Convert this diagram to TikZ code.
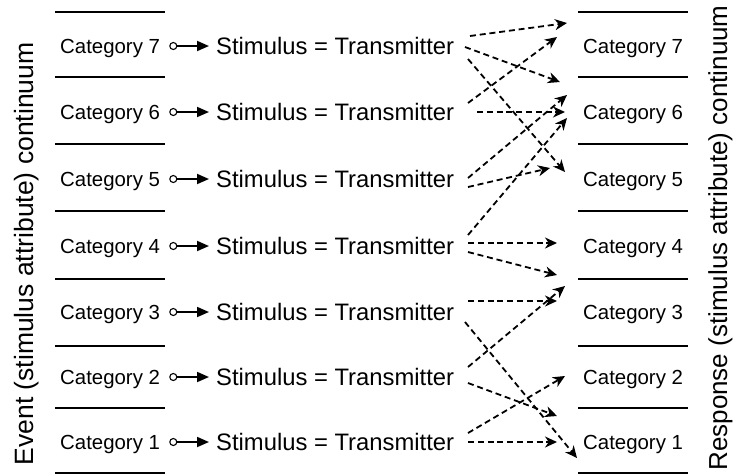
\documentclass[tikz,border=0pt]{standalone}
\usepackage{fontspec}
\setmainfont{Liberation Sans}
\usetikzlibrary{arrows.meta}
\begin{document}
\begin{tikzpicture}[x=1pt,y=-1pt,
  rule/.style={line width=1.3pt},
  cat/.style={font=\fontsize{20.4}{24}\selectfont, inner sep=0pt, anchor=base west},
  stim/.style={font=\fontsize{23.8}{28}\selectfont, inner ysep=0pt, inner xsep=7pt, anchor=base west},
  dot/.style={circle, draw, line width=1.1pt, inner sep=0pt, minimum size=7pt},
  feed/.style={line width=1.8pt, -{Triangle[length=12pt,width=10pt]}},
  link/.style={line width=1.8pt, dash pattern=on 6pt off 3.8pt, -{Stealth[length=12pt,width=11pt,inset=3.8pt]}},
  axis/.style={rotate=90, inner sep=0pt, anchor=base}
]
\useasboundingbox (0,0) rectangle (738,475);
% separator rules
\foreach \y in {12,77,144,211,279,346,408,473}{
  \draw[rule] (55,\y) -- (165,\y);
  \draw[rule] (578,\y) -- (688,\y);
}
% rows
\foreach \k/\c in {7/46,6/112,5/179,4/246,3/312,2/377,1/442}{
  \node[cat] (l\k) at (60,\c+7.3) {Category \k};
  \node[dot] (c\k) at (173.3,\c) {};
  \node[stim] (s\k) at (209,\c+8.6) {Stimulus = Transmitter};
  \draw[feed] (c\k.east) -- (c\k.east -| s\k.west);
  \node[cat] (r\k) at (583,\c+7.3) {Category \k};
}
% dashed links
\foreach \i/\xa/\ya/\xb/\yb in {
  1/470/36/567/23, 2/465/47/560/82, 3/468/59/565/172,
  4/468/103/557/37, 5/477/112/565/112,
  6/468/178/567/95, 7/468/187/550/168,
  8/468/235/567/118, 9/468/243/557/243, 10/468/252/557/275,
  11/468/301/557/301, 12/465/322/577/458,
  13/468/367/565/286, 14/468/383/557/416,
  15/468/433/565/376, 16/468/442/557/442}{
  \coordinate (from\i) at (\xa,\ya);
  \coordinate (to\i) at (\xb,\yb);
  \draw[link] (from\i) -- (to\i);
}
% axis labels
\node[axis, font=\fontsize{26.5}{31}\selectfont] (event) at (33,254) {Event (stimulus attribute) continuum};
\node[axis, font=\fontsize{26}{31}\selectfont] (response) at (727,238) {Response (stimulus attribute) continuum};
\end{tikzpicture}
\end{document}
